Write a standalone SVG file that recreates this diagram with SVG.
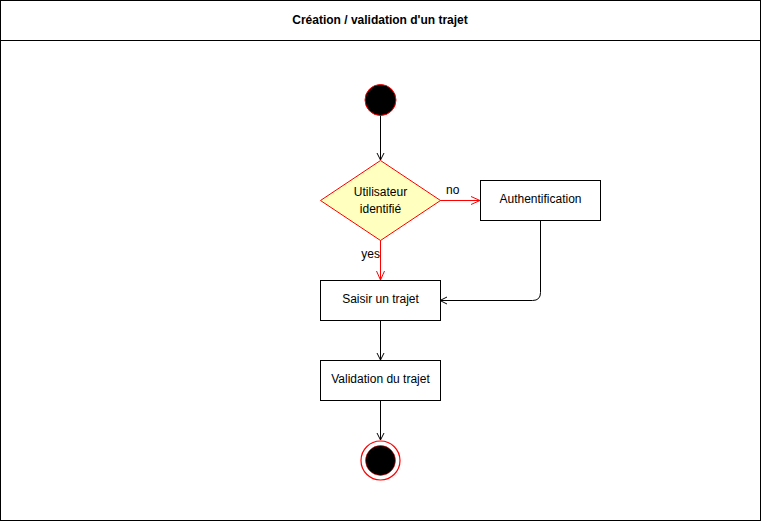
<svg xmlns="http://www.w3.org/2000/svg" width="761" height="521" viewBox="0 0 761 521">
<defs>
<style>
text{font-family:"Liberation Sans",Arial,sans-serif;font-size:12px;fill:#000}
.box{fill:#fff;stroke:#000;stroke-width:1}
.blk{fill:none;stroke:#000;stroke-width:1}
.red{fill:none;stroke:#ff0000;stroke-width:1}
</style>
<marker id="ab" markerWidth="10" markerHeight="10" refX="8" refY="5" orient="auto" markerUnits="userSpaceOnUse">
<path d="M1,1.5 L8,5 L1,8.5" fill="none" stroke="#000" stroke-width="1"/>
</marker>
<marker id="ar" markerWidth="12" markerHeight="12" refX="10" refY="6" orient="auto" markerUnits="userSpaceOnUse">
<path d="M1,2 L10,6 L1,10" fill="none" stroke="#ff0000" stroke-width="1"/>
</marker>
</defs>
<rect x="0" y="0" width="761" height="521" fill="#fff"/>
<g id="frame">
<rect x="0.5" y="0.5" width="760" height="520" class="box"/>
<line x1="0.5" y1="40.5" x2="760.5" y2="40.5" class="blk"/>
<text x="380" y="24" text-anchor="middle" font-weight="bold">Création / validation d'un trajet</text>
</g>
<g id="connectors">
<line x1="380.5" y1="115" x2="380.5" y2="160" class="blk" marker-end="url(#ab)"/>
<line x1="440" y1="200.5" x2="480" y2="200.5" class="red" marker-end="url(#ar)"/>
<text x="446" y="194">no</text>
<line x1="380.5" y1="240" x2="380.5" y2="280" class="red" marker-end="url(#ar)"/>
<text x="380" y="258" text-anchor="end">yes</text>
<path d="M540.5,220 L540.5,292.5 Q540.5,300.5 532.5,300.5 L440,300.5" class="blk" marker-end="url(#ab)"/>
<line x1="380.5" y1="320" x2="380.5" y2="360" class="blk" marker-end="url(#ab)"/>
<line x1="380.5" y1="400" x2="380.5" y2="440" class="blk" marker-end="url(#ab)"/>
</g>
<g id="start">
<circle cx="380.5" cy="100" r="15.5" fill="#000" stroke="#ff0000" stroke-width="1"/>
</g>
<g id="decision">
<polygon points="380.5,160.5 440.5,200.5 380.5,240.5 320.5,200.5" fill="#ffffc0" stroke="#ff0000" stroke-width="1"/>
<text x="380.5" y="196" text-anchor="middle">Utilisateur</text>
<text x="380.5" y="213" text-anchor="middle">identifié</text>
</g>
<g id="auth">
<rect x="480.5" y="180.5" width="120" height="40" class="box"/>
<text x="540.5" y="203" text-anchor="middle">Authentification</text>
</g>
<g id="saisir">
<rect x="320.5" y="280.5" width="120" height="40" class="box"/>
<text x="380.5" y="303" text-anchor="middle">Saisir un trajet</text>
</g>
<g id="validation">
<rect x="320.5" y="360.5" width="120" height="40" class="box"/>
<text x="380.5" y="383" text-anchor="middle">Validation du trajet</text>
</g>
<g id="end">
<circle cx="380.5" cy="460.5" r="19.5" fill="#fff" stroke="#ff0000" stroke-width="1.2"/>
<circle cx="380.5" cy="460.5" r="15" fill="#000" stroke="#ff0000" stroke-width="0.5"/>
</g>
</svg>
